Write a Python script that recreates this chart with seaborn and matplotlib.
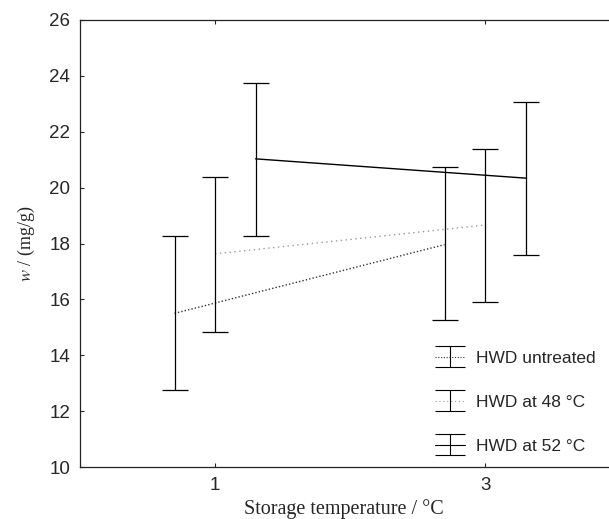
import numpy as np
import pandas as pd
import matplotlib
matplotlib.use("Agg")
import matplotlib.pyplot as plt
from matplotlib.legend_handler import HandlerErrorbar
from matplotlib.container import ErrorbarContainer
import seaborn as sns

# ---- data ----
temps = [1, 3]
groups = ["HWD untreated", "HWD at 48 °C", "HWD at 52 °C"]
offsets = [-0.3, 0.0, 0.3]
mean_untreated = [15.50, 17.96]
lo_untreated = [12.75, 15.25]
hi_untreated = [18.27, 20.75]
mean_48 = [17.63, 18.66]
lo_48 = [14.85, 15.90]
hi_48 = [20.37, 21.38]
mean_52 = [21.03, 20.34]
lo_52 = [18.27, 17.58]
hi_52 = [23.75, 23.07]
yticks = [10, 12, 14, 16, 18, 20, 22, 24, 26]

means = [mean_untreated, mean_48, mean_52]
los = [lo_untreated, lo_48, lo_52]
his = [hi_untreated, hi_48, hi_52]

rows = []
for g, off, m, lo, hi in zip(groups, offsets, means, los, his):
    for t, mv, l, h in zip(temps, m, lo, hi):
        rows.append(dict(group=g, x=t + off, mean=mv, lo=l, hi=h))
df = pd.DataFrame(rows)

sns.set_style("ticks")
plt.rcParams["font.family"] = ["Liberation Sans", "DejaVu Sans"]
plt.rcParams["mathtext.fontset"] = "stix"

fig = plt.figure(figsize=(6.09, 5.19), dpi=100)
ax = fig.add_axes([80 / 609, (519 - 467) / 519, 528 / 609, 447 / 519])

styles = {
    "HWD untreated": dict(color="#333333", ls=(0, (1, 1.5))),
    "HWD at 48 °C": dict(color="#999999", ls=(0, (1, 2.5))),
    "HWD at 52 °C": dict(color="black", ls="-"),
}

for g in groups:
    sub = df[df.group == g]
    st = styles[g]
    sns.lineplot(data=sub, x="x", y="mean", ax=ax, color=st["color"],
                 linestyle=st["ls"], linewidth=1.0, legend=False)
    ax.errorbar(sub.x, sub["mean"],
                yerr=[sub["mean"] - sub.lo, sub.hi - sub["mean"]],
                fmt="none", ecolor="black", elinewidth=0.9, capsize=9.5,
                capthick=0.9)

# legend handles
handles = []
for g in groups:
    st = styles[g]
    h = ax.errorbar([np.nan], [np.nan], yerr=[[1], [1]], color=st["color"],
                    ls=st["ls"], lw=0.8, ecolor="black", elinewidth=0.8,
                    capsize=11, capthick=0.8, label=g)
    handles.append(h)
leg = ax.legend(handles=handles, loc="lower left",
                bbox_to_anchor=(0.672, 0.03), frameon=False, fontsize=12.5,
                labelspacing=1.65, handlelength=1.75, handletextpad=0.65,
                borderpad=0, borderaxespad=0,
                handler_map={ErrorbarContainer: HandlerErrorbar(xerr_size=0.6)})

ax.set_xlim(0, 3.91)
ax.set_ylim(10, 26)
ax.set_xticks(temps)
ax.set_xticklabels([str(t) for t in temps])
ax.set_yticks(yticks)
ax.tick_params(direction="in", top=True, right=False, length=3, width=0.8,
               labelsize=13.5, pad=7)
for s in ax.spines.values():
    s.set_linewidth(0.9)
    s.set_color("#222222")
ax.spines["right"].set_visible(False)

ax.set_xlabel("Storage temperature / °C", family="Liberation Serif",
              fontsize=14.5, labelpad=4)
ax.set_ylabel("$w$ / (mg/g)", family="Liberation Serif", fontsize=13,
              labelpad=9)

fig.savefig("out.png", dpi=100)
